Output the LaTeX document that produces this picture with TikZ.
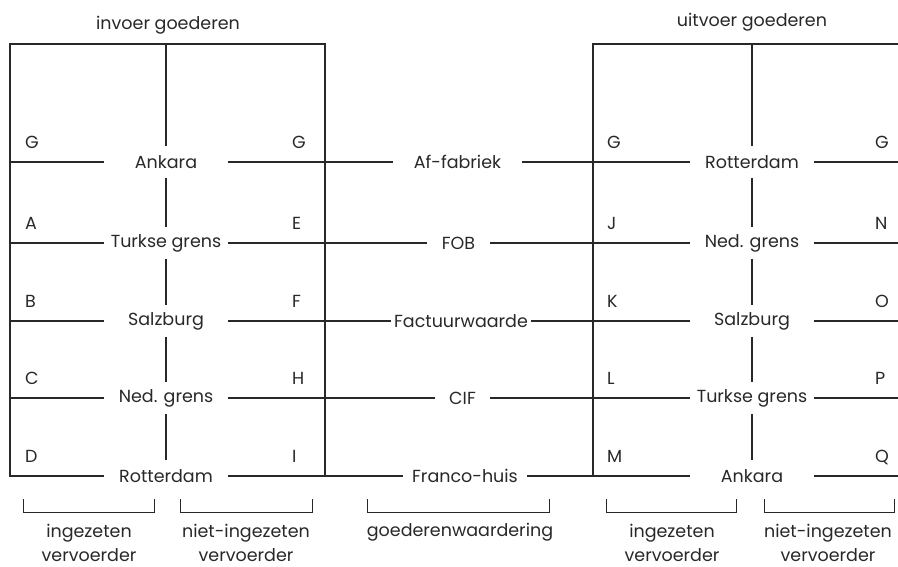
\documentclass[tikz,border=0pt]{standalone}
\usepackage{fontspec}
\setmainfont{Poppins}
\definecolor{ink}{RGB}{40,40,40}
\begin{document}
\begin{tikzpicture}[x=1pt,y=-1pt,
  every node/.style={font=\fontsize{17.5}{19}\selectfont, text=ink, inner sep=0pt},
  thinline/.style={draw=ink, line width=1.2pt},
  boxline/.style={draw=ink, line width=2.8pt, line join=miter},
  city/.style={minimum width=123pt, minimum height=31pt},
  mid/.style={minimum height=31pt},
  letter/.style={anchor=base west},
  caption/.style={anchor=base}]
\useasboundingbox (0,0) rectangle (898,566);

% ---------- left box (invoer) ----------
\node[caption] (tl) at (168,29) {invoer goederen};
\coordinate (lTop) at (166,44);
\coordinate (lTL) at (10,44);
\coordinate (lTR) at (325,44);
\coordinate (lBL) at (10,476);
\coordinate (lBR) at (325,476);
\foreach \n/\y in {1/162,2/243,3/321,4/398}{\coordinate (lL\n) at (10,\y);}

\node[city] (lA) at (166,162) {Ankara};
\node[city] (lB) at (166,243) {Turkse grens};
\node[city] (lC) at (166,321) {Salzburg};
\node[city] (lD) at (166,398) {Ned. grens};
\node[city] (lE) at (166,476) {Rotterdam};

\draw[boxline] (lE.west) -- (lBL) -- (lTL) -- (lTR) -- (lBR) -- (lE.east);
\draw[thinline] (lTop) -- (lA.north) (lA.south) -- (lB.north) (lB.south) -- (lC.north)
  (lC.south) -- (lD.north) (lD.south) -- (lE.north);
\draw[thinline] (lL1) -- (lA.west) (lL2) -- (lB.west) (lL3) -- (lC.west) (lL4) -- (lD.west);

\foreach \y/\a/\b in {162/G/G,243/A/E,321/B/F,398/C/H,476/D/I}{
  \node[letter] at (25,\y-14) {\a};
  \node[letter] at (292,\y-14) {\b};
}

% ---------- middle column ----------
\node[mid, minimum width=129pt] (mA) at (457.5,162) {Af-fabriek};
\node[mid, minimum width=63pt] (mB) at (458.5,243) {FOB};
\node[mid, inner xsep=3pt] (mC) at (461,321) {Factuurwaarde};
\node[mid, minimum width=55pt] (mD) at (462.5,398) {CIF};
\node[mid, minimum width=124pt] (mE) at (465,476) {Franco-huis};

% ---------- right box (uitvoer) ----------
\node[caption] (tr) at (752,26) {uitvoer goederen};
\coordinate (rTop) at (752,44);
\coordinate (rTL) at (593,44);
\coordinate (rTR) at (899,44);
\coordinate (rBL) at (593,476);
\foreach \n/\y in {1/162,2/243,3/321,4/398,5/476}{\coordinate (rR\n) at (899,\y);}

\node[city, minimum width=124pt] (rA) at (752,162) {Rotterdam};
\node[city, minimum width=124pt] (rB) at (752,243) {Ned. grens};
\node[city, minimum width=124pt] (rC) at (752,321) {Salzburg};
\node[city, minimum width=124pt] (rD) at (752,398) {Turkse grens};
\node[city, minimum width=124pt] (rE) at (752,476) {Ankara};

\draw[boxline] (rE.west) -- (rBL) -- (rTL) -- (rTR);
\draw[boxline] (rE.east) -- (rR5);
\draw[thinline] (rTop) -- (rA.north) (rA.south) -- (rB.north) (rB.south) -- (rC.north)
  (rC.south) -- (rD.north) (rD.south) -- (rE.north);
\draw[thinline] (rA.east) -- (rR1) (rB.east) -- (rR2) (rC.east) -- (rR3) (rD.east) -- (rR4);

\foreach \y/\a/\b in {162/G/G,243/J/N,321/K/O,398/L/P,476/M/Q}{
  \node[letter] at (607,\y-14) {\a};
  \node[letter] at (875,\y-14) {\b};
}

% ---------- connectors across ----------
\draw[thinline] (lA.east) -- (mA.west) (mA.east) -- (rA.west);
\draw[thinline] (lB.east) -- (mB.west) (mB.east) -- (rB.west);
\draw[thinline] (lC.east) -- (mC.west) (mC.east) -- (rC.west);
\draw[thinline] (lD.east) -- (mD.west) (mD.east) -- (rD.west);
\draw[thinline] (lBR) -- (mE.west) (mE.east) -- (rBL);

% ---------- brackets ----------
\foreach \xa/\xb in {23/154,180/312,367/549,606/736,764/894}{
  \draw[thinline, line width=1pt] (\xa,499) -- (\xa,512) -- (\xb,512) -- (\xb,499);
}
\node[caption] (b1) at (89,537) {ingezeten};
\node[caption] (b1b) at (89,561) {vervoerder};
\node[caption] (b2) at (246,537) {niet-ingezeten};
\node[caption] (b2b) at (246,561) {vervoerder};
\node[caption] (b3) at (460,536) {goederenwaardering};
\node[caption] (b4) at (672,537) {ingezeten};
\node[caption] (b4b) at (672,561) {vervoerder};
\node[caption] (b5) at (828,537) {niet-ingezeten};
\node[caption] (b5b) at (828,561) {vervoerder};
\end{tikzpicture}
\end{document}
